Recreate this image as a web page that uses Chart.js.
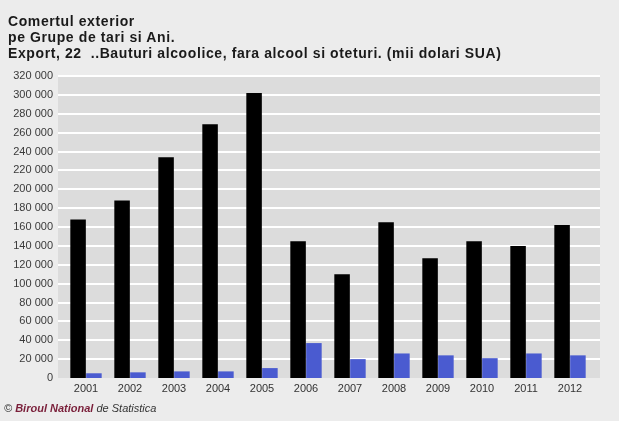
<!DOCTYPE html>
<html>
<head>
<meta charset="utf-8">
<script src="https://cdn.jsdelivr.net/npm/chart.js@4/dist/chart.umd.min.js"></script>
<style>
    body { margin: 0; background: #ececec; font-family: Arial, "Liberation Sans", sans-serif; }
    #wrap { position: relative; width: 619px; height: 421px; overflow: hidden; background: #ececec; }
    #title { position: absolute; left: 8px; top: 13px; font-weight: bold; font-size: 14px; letter-spacing: 0.6px; line-height: 16px; color: #1a1a1a; }
    #footer { position: absolute; left: 4px; top: 402px; font-size: 11px; font-style: italic; color: #333; }
    #footer .org { color: #7a1f3a; font-weight: bold; }
    canvas { position: absolute; left: 0; top: 0; }
</style>
</head>
<body>
<div id="wrap">
    <canvas id="chart" width="619" height="421"></canvas>
    <div id="title">Comertul exterior<br>pe Grupe de tari si Ani.<br>Export, 22&nbsp;&nbsp;..Bauturi alcoolice, fara alcool si oteturi. (mii dolari SUA)</div>
    <div id="footer">© <span class="org">Biroul National</span> de Statistica</div>
</div>
<script>
const years = ['2001', '2002', '2003', '2004', '2005', '2006', '2007', '2008', '2009', '2010', '2011', '2012'];
const seriesBlack = [168000, 188000, 234000, 269000, 302000, 145000, 110000, 165000, 127000, 145000, 140000, 162000];
const seriesBlue = [5000, 6000, 7000, 7000, 10500, 37000, 20000, 26000, 24000, 21000, 26000, 24000];

// plot panel is a bit wider than the category area
const panelLeft = 58;
const panelRight = 600;

const plotBg = {
    id: 'plotBg',
    beforeDatasetsDraw(chart) {
        const a = chart.chartArea;
        const ctx = chart.ctx;
        const y = chart.scales.y;
        ctx.save();
        ctx.fillStyle = '#dcdcdc';
        ctx.fillRect(panelLeft, a.top, panelRight - panelLeft, a.bottom - a.top);
        ctx.strokeStyle = '#ffffff';
        ctx.lineWidth = 2;
        y.ticks.forEach(t => {
            if (t.value === 0) return;
            const py = Math.round(y.getPixelForValue(t.value));
            ctx.beginPath();
            ctx.moveTo(panelLeft, py);
            ctx.lineTo(panelRight, py);
            ctx.stroke();
        });
        ctx.restore();
    }
};

new Chart(document.getElementById('chart'), {
    type: 'bar',
    data: {
        labels: years,
        datasets: [
            { data: seriesBlack, backgroundColor: '#000000', categoryPercentage: 0.72, barPercentage: 0.98 },
            { data: seriesBlue, backgroundColor: '#4a5bd0', categoryPercentage: 0.72, barPercentage: 0.98 }
        ]
    },
    options: {
        responsive: false,
        animation: false,
        layout: { padding: { top: 76, right: 27, bottom: 23, left: 0 } },
        plugins: { legend: { display: false }, tooltip: { enabled: false } },
        scales: {
            x: {
                grid: { display: false, drawTicks: false },
                border: { display: false },
                ticks: { color: '#333', font: { size: 11, family: 'Arial' }, padding: 4, maxRotation: 0, autoSkip: false },
                afterFit(scale) { scale.height = 20; }
            },
            y: {
                min: 0,
                max: 320000,
                grid: { display: false, drawTicks: false },
                border: { display: false },
                ticks: {
                    stepSize: 20000,
                    color: '#3a3a3a',
                    padding: 11,
                    font: { size: 11, family: 'Arial' },
                    callback: v => v.toLocaleString('en-US').replace(/,/g, ' ')
                },
                afterFit(scale) { scale.width = 64; }
            }
        }
    },
    plugins: [plotBg]
});
</script>
</body>
</html>
